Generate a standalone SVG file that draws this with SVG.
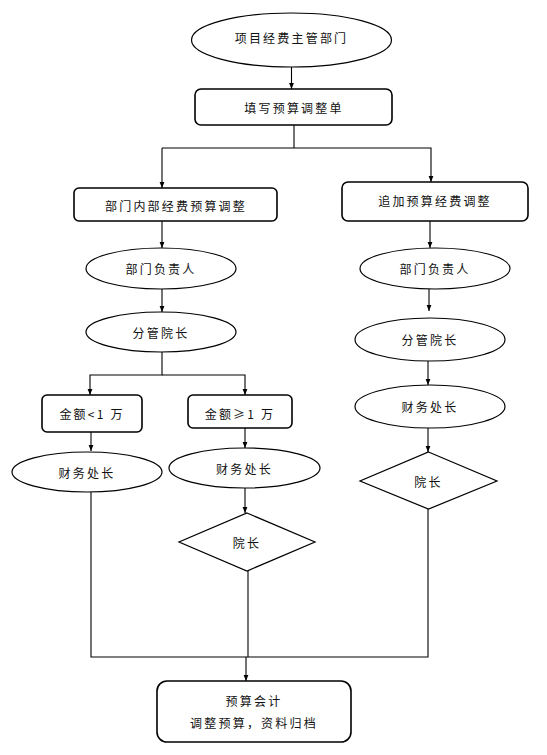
<svg xmlns="http://www.w3.org/2000/svg" width="547" height="755" viewBox="0 0 547 755">
<style>
.s{fill:#fff;stroke:#000;stroke-width:1.2}
.b{fill:#fff;stroke:#000;stroke-width:1.6}
.t{font-family:"Noto Sans CJK SC","Liberation Sans",sans-serif;font-size:12px;letter-spacing:2.2px;fill:#111;text-anchor:middle;dominant-baseline:central}
.c{fill:none;stroke:#000;stroke-width:1.1}
</style>
<defs>
<marker id="a" viewBox="0 0 10 10" refX="10" refY="5" markerWidth="6" markerHeight="6" orient="auto" markerUnits="userSpaceOnUse">
<path d="M0,1 L10,5 L0,9 z" fill="#000"/>
</marker>
</defs>
<rect width="547" height="755" fill="#fff"/>
<g id="connectors">
<line class="c" x1="291.5" y1="67" x2="291.5" y2="89" marker-end="url(#a)"/>
<line class="c" x1="294" y1="125" x2="294" y2="148"/>
<polyline class="c" points="162,148 431,148 431,182" marker-end="url(#a)"/>
<line class="c" x1="162" y1="148" x2="162" y2="188" marker-end="url(#a)"/>
<line class="c" x1="162" y1="221" x2="162" y2="248" marker-end="url(#a)"/>
<line class="c" x1="162" y1="289" x2="162" y2="312" marker-end="url(#a)"/>
<polyline class="c" points="162,352 162,375 90,375 90,395" marker-end="url(#a)"/>
<polyline class="c" points="162,375 245,375 245,395" marker-end="url(#a)"/>
<line class="c" x1="91" y1="432" x2="91" y2="451" marker-end="url(#a)"/>
<line class="c" x1="245" y1="428" x2="245" y2="448" marker-end="url(#a)"/>
<line class="c" x1="245" y1="488" x2="245" y2="513" marker-end="url(#a)"/>
<line class="c" x1="430" y1="221" x2="430" y2="248" marker-end="url(#a)"/>
<line class="c" x1="429" y1="289" x2="429" y2="311" marker-end="url(#a)"/>
<line class="c" x1="428" y1="361" x2="428" y2="385" marker-end="url(#a)"/>
<line class="c" x1="428" y1="428" x2="428" y2="452" marker-end="url(#a)"/>
<polyline class="c" points="91,492 91,657 428,657 428,509"/>
<line class="c" x1="248" y1="571" x2="248" y2="657"/>
<line class="c" x1="246" y1="657" x2="246" y2="681" marker-end="url(#a)"/>
</g>
<g id="n1"><ellipse class="s" cx="291.5" cy="40" rx="100" ry="27"/><text class="t" x="291.5" y="37">项目经费主管部门</text></g>
<g id="n2"><rect class="b" x="195" y="89" width="197" height="36" rx="6"/><text class="t" x="294" y="107">填写预算调整单</text></g>
<g id="n3"><rect class="b" x="74" y="188" width="203" height="33" rx="5"/><text class="t" x="176" y="205">部门内部经费预算调整</text></g>
<g id="n4"><rect class="b" x="342" y="182" width="186" height="39" rx="6"/><text class="t" x="435" y="200">追加预算经费调整</text></g>
<g id="n5"><ellipse class="s" cx="161" cy="268.5" rx="75" ry="20.5"/><text class="t" x="161" y="268">部门负责人</text></g>
<g id="n6"><ellipse class="s" cx="161" cy="332" rx="75" ry="20"/><text class="t" x="161" y="332">分管院长</text></g>
<g id="n7"><ellipse class="s" cx="435" cy="268.5" rx="75" ry="20.5"/><text class="t" x="435" y="268">部门负责人</text></g>
<g id="n8"><ellipse class="s" cx="430" cy="339.5" rx="75" ry="21.5"/><text class="t" x="430" y="339">分管院长</text></g>
<g id="n9"><ellipse class="s" cx="430" cy="406.5" rx="75" ry="21.5"/><text class="t" x="430" y="406">财务处长</text></g>
<g id="n10"><polygon class="s" points="428.5,452 497,481 428.5,509 360,481"/><text class="t" x="428.5" y="481">院长</text></g>
<g id="n11"><rect class="b" x="42" y="395" width="100" height="37" rx="5"/><text class="t" x="92" y="413">金额&lt;1 万</text></g>
<g id="n12"><rect class="b" x="188" y="395" width="104" height="33" rx="5"/><text class="t" x="240" y="413">金额≥1 万</text></g>
<g id="n13"><ellipse class="s" cx="87" cy="472" rx="75" ry="20"/><text class="t" x="87" y="472">财务处长</text></g>
<g id="n14"><ellipse class="s" cx="244.5" cy="468" rx="75.5" ry="20"/><text class="t" x="244.5" y="468">财务处长</text></g>
<g id="n15"><polygon class="s" points="247,513 315,542 247,571 179,542"/><text class="t" x="247" y="542">院长</text></g>
<g id="n16"><rect class="b" x="157" y="681" width="194" height="61" rx="10"/><text class="t" x="254" y="700">预算会计</text><text class="t" x="254" y="722">调整预算，资料归档</text></g>
</svg>
